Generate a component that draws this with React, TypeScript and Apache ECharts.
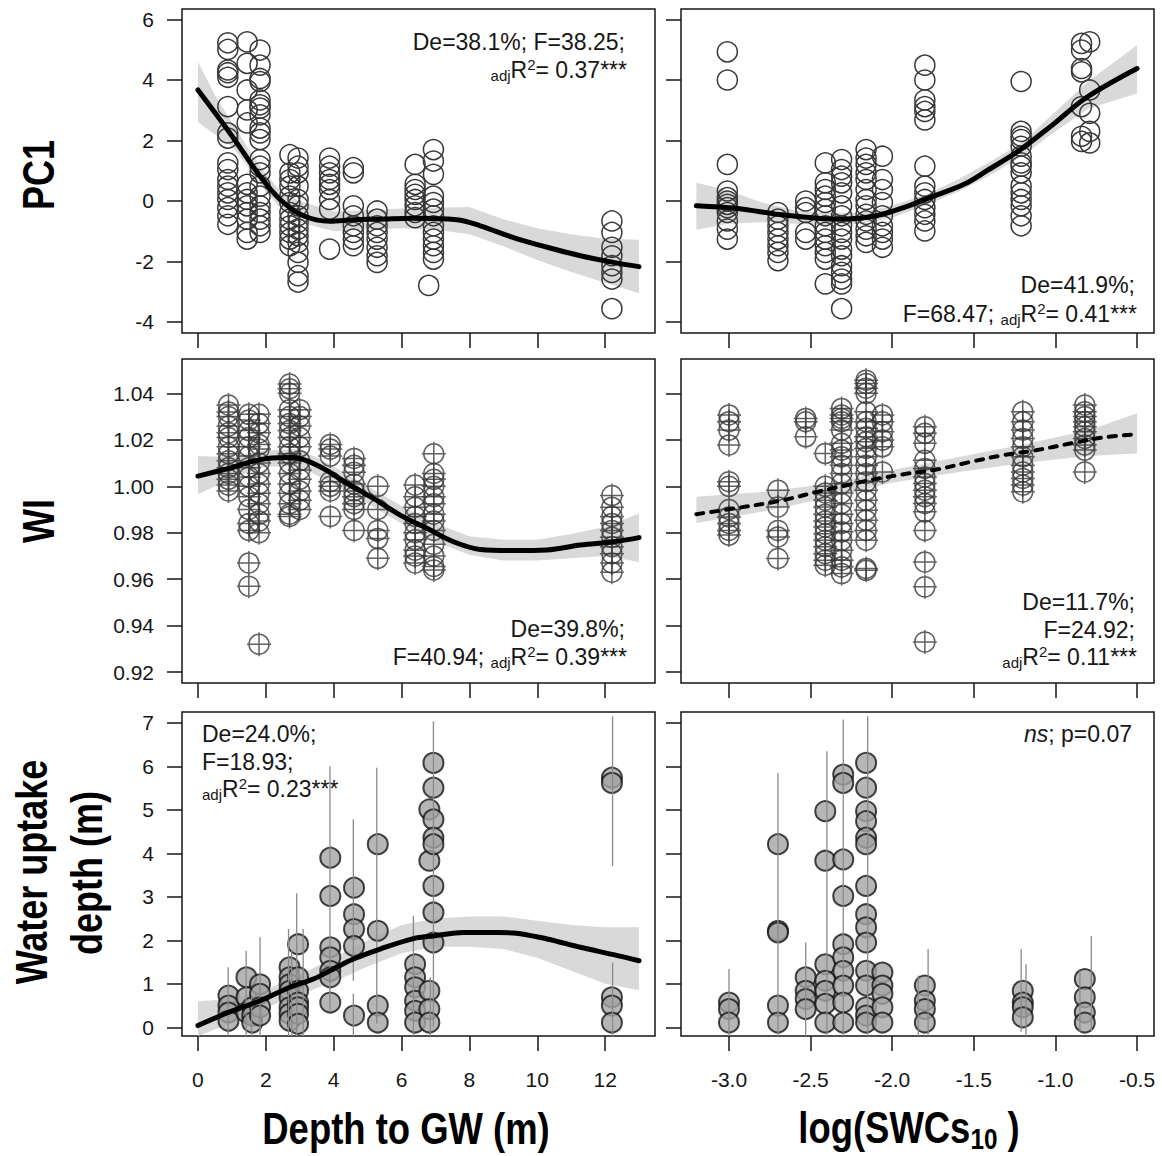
import React, { useEffect, useRef } from "react";
import * as echarts from "echarts";

// ---------------- Tick values ----------------
const depthTicks = [0, 2, 4, 6, 8, 10, 12];
const swcTicks = [-3.0, -2.5, -2.0, -1.5, -1.0, -0.5];
const pc1Ticks = [-4, -2, 0, 2, 4, 6];
const wiTicks = [0.92, 0.94, 0.96, 0.98, 1.0, 1.02, 1.04];
const wudTicks = [0, 1, 2, 3, 4, 5, 6, 7];

// ---------------- PC1 vs depth to GW ----------------
const pc1DepthPts: [number, number[]][] = [
  [0.88, [5.23, 5.01, 4.33, 4.24, 4.09, 3.12, 2.25, 2.08, 1.26, 1.04, 0.71, 0.49, 0.27, 0.05, -0.22, -0.49, -0.77]],
  [1.45, [5.26, 4.55, 3.67, 3.01, 2.58, 0.55, 0.27, 0.05, -0.16, -0.38, -0.6, -1.04, -1.26]],
  [1.83, [4.99, 4.49, 4.05, 3.95, 3.34, 3.18, 3.07, 2.85, 2.41, 2.25, 2.03, 1.37, 1.15, 0.93, 0.49, 0.16, -0.16, -0.38, -0.6, -0.82, -1.04]],
  [2.71, [1.53, 0.93, 0.71, 0.49, 0.16, -0.05, -0.38, -0.6, -0.82, -1.04, -1.26, -1.48]],
  [2.95, [1.42, 1.15, 0.93, 0.49, 0.05, -0.16, -0.49, -0.71, -0.93, -1.15, -1.37, -1.7, -2.03, -2.47, -2.68]],
  [3.88, [1.42, 1.15, 0.93, 0.71, 0.55, 0.38, 0.05, -0.27, -1.59]],
  [4.58, [1.1, 0.93, -0.16, -0.49, -0.82, -1.04, -1.26, -1.48]],
  [5.28, [-0.33, -0.6, -0.82, -1.04, -1.26, -1.53, -1.81, -2.03]],
  [6.4, [1.21, 0.55, 0.38, 0.22, 0.05, -0.16, -0.38, -0.55]],
  [6.94, [1.7, 1.32, 0.88, 0.16, -0.05, -0.27, -0.49, -0.82, -1.04, -1.26, -1.48, -1.7, -1.92]],
  [6.8, [-2.79]],
  [12.2, [-0.66, -1.04, -1.53, -1.81, -2.14, -2.36, -2.58, -3.56]],
];
const pc1DepthFit: [number, number][] = [
  [0, 3.67], [0.94, 2.25], [1.83, 0.82], [2.42, 0.05], [3.11, -0.49], [3.89, -0.67], [4.58, -0.62],
  [5.37, -0.6], [6.35, -0.57], [7.63, -0.62], [8.32, -0.82], [9.3, -1.21], [10.29, -1.53],
  [11.27, -1.81], [12.25, -2.03], [13.0, -2.17],
];
const pc1DepthBand: [number, number, number][] = [
  [0, 2.6, 4.6], [0.5, 2.2, 3.5], [1, 1.8, 2.6], [1.5, 1.1, 1.7], [2, 0.3, 0.9], [2.5, -0.3, 0.25],
  [3, -0.7, 0.0], [4, -1.0, -0.35], [5, -0.95, -0.3], [6, -0.9, -0.25], [7, -0.95, -0.22],
  [8, -1.1, -0.2], [9, -1.5, -0.6], [10, -1.95, -0.9], [11, -2.35, -1.1], [12, -2.7, -1.25], [13, -3.05, -1.28],
];

// ---------------- PC1 vs log(SWC) ----------------
const pc1SwcPts: [number, number[]][] = [
  [-3.01, [4.93, 4.0, 1.21, 0.33, 0.11, 0.0, -0.11, -0.22, -0.38, -0.66, -0.93, -1.26]],
  [-2.7, [-0.38, -0.6, -0.82, -1.04, -1.26, -1.48, -1.7, -1.97]],
  [-2.53, [0.0, -0.22, -0.38, -1.04, -1.26]],
  [-2.41, [1.26, 0.6, 0.38, 0.16, -0.05, -0.27, -0.49, -0.82, -1.04, -1.26, -1.48, -1.7, -1.92, -2.74]],
  [-2.31, [1.37, 1.04, 0.82, 0.6, 0.27, -0.16, -0.49, -0.82, -1.04, -1.26, -1.59, -1.81, -2.14, -2.36, -2.58, -2.74, -3.56]],
  [-2.16, [1.7, 1.42, 1.21, 0.93, 0.71, 0.38, 0.05, -0.16, -0.44, -0.66, -0.93, -1.15, -1.37]],
  [-2.06, [1.48, 0.71, 0.38, -0.05, -0.49, -0.82, -1.04, -1.26, -1.53]],
  [-1.8, [4.49, 4.0, 3.34, 3.12, 2.96, 2.68, 1.15, 0.49, 0.27, 0.05, -0.22, -0.44, -0.66, -0.99]],
  [-1.21, [3.95, 2.3, 2.14, 2.03, 1.81, 1.48, 1.26, 1.15, 0.93, 0.49, 0.27, 0.05, -0.16, -0.49, -0.82]],
  [-0.84, [5.21, 4.99, 4.38, 4.27, 3.12, 2.14, 1.97]],
  [-0.79, [5.26, 3.67, 2.9, 2.3, 1.92]],
];
const pc1SwcFit: [number, number][] = [
  [-3.2, -0.16], [-2.95, -0.25], [-2.69, -0.45], [-2.44, -0.58], [-2.3, -0.6], [-2.1, -0.49],
  [-1.93, -0.22], [-1.77, 0.11], [-1.56, 0.55], [-1.42, 1.0], [-1.22, 1.68], [-1.01, 2.55],
  [-0.81, 3.42], [-0.5, 4.38],
];
const pc1SwcBand: [number, number, number][] = [
  [-3.2, -0.95, 0.6], [-3.0, -0.75, 0.35], [-2.8, -0.7, -0.05], [-2.6, -0.75, -0.3], [-2.4, -0.8, -0.4],
  [-2.2, -0.75, -0.4], [-2.0, -0.55, -0.15], [-1.8, -0.15, 0.2], [-1.6, 0.3, 0.7], [-1.4, 0.85, 1.3],
  [-1.2, 1.5, 1.95], [-1.0, 2.3, 2.95], [-0.8, 3.05, 3.95], [-0.5, 3.55, 5.15],
];

// ---------------- WI vs depth to GW ----------------
const wiDepthPts: [number, number[]][] = [
  [0.9, [1.035, 1.032, 1.03, 1.026, 1.023, 1.021, 1.017, 1.014, 1.011, 1.008, 1.0055, 1.003, 1.0005, 0.998]],
  [1.5, [1.031, 1.0285, 1.024, 1.021, 1.017, 1.013, 1.008, 1.004, 1.0, 0.9955, 0.99, 0.984, 0.981, 0.967, 0.957]],
  [1.8, [1.031, 1.027, 1.023, 1.018, 1.016, 1.01, 1.0055, 1.001, 0.997, 0.9925, 0.988, 0.985, 0.98, 0.932]],
  [2.7, [1.044, 1.042, 1.04, 1.033, 1.03, 1.027, 1.024, 1.021, 1.017, 1.014, 1.01, 1.0055, 1.001, 0.997, 0.9925, 0.988, 0.987]],
  [3.0, [1.033, 1.03, 1.026, 1.021, 1.017, 1.011, 1.007, 1.003, 0.998, 0.994, 0.99]],
  [3.9, [1.018, 1.016, 1.013, 1.002, 1.0, 0.998, 0.987]],
  [4.6, [1.012, 1.009, 1.006, 1.001, 0.998, 0.9955, 0.9925, 0.99, 0.981]],
  [5.3, [1.0, 0.99, 0.981, 0.9775, 0.969]],
  [6.4, [1.0005, 0.9955, 0.991, 0.987, 0.984, 0.98, 0.977, 0.9725, 0.97, 0.967]],
  [6.95, [1.014, 1.0055, 1.003, 1.0, 0.9955, 0.9925, 0.988, 0.985, 0.981, 0.975, 0.97, 0.9655, 0.964]],
  [12.2, [0.996, 0.991, 0.987, 0.984, 0.981, 0.978, 0.974, 0.971, 0.967, 0.963]],
];
const wiDepthFit: [number, number][] = [
  [0, 1.0044], [0.94, 1.0078], [2.03, 1.012], [2.81, 1.0124], [3.6, 1.0084], [4.39, 1.0013],
  [5.17, 0.9948], [5.96, 0.9876], [6.75, 0.9819], [7.53, 0.9761], [8.32, 0.9728], [9.3, 0.9723],
  [10.29, 0.9726], [11.27, 0.9747], [12.25, 0.9761], [13.0, 0.9779],
];
const wiDepthBand: [number, number, number][] = [
  [0, 0.9966, 1.013], [1, 1.0035, 1.0125], [2, 1.0085, 1.0155], [3, 1.0085, 1.016], [4, 1.001, 1.0085],
  [5, 0.9925, 1.0], [6, 0.984, 0.9915], [7, 0.976, 0.984], [8, 0.9705, 0.9785], [9, 0.968, 0.977],
  [10, 0.968, 0.977], [11, 0.969, 0.9795], [12, 0.97, 0.9825], [13, 0.9674, 0.9883],
];

// ---------------- WI vs log(SWC) ----------------
const wiSwcPts: [number, number[]][] = [
  [-3.0, [1.0307, 1.0278, 1.0242, 1.0178, 1.002, 1.0, 0.99, 0.9868, 0.984, 0.981, 0.979]],
  [-2.7, [0.9983, 0.9911, 0.981, 0.9782, 0.9689]],
  [-2.53, [1.0292, 1.0278, 1.0213]],
  [-2.41, [1.0141, 1.0, 0.9971, 0.994, 0.9911, 0.988, 0.985, 0.9825, 0.9796, 0.9768, 0.974, 0.971, 0.9682, 0.966]],
  [-2.31, [1.0335, 1.0307, 1.0292, 1.0278, 1.0242, 1.0185, 1.0156, 1.0127, 1.0091, 1.0055, 1.0012, 0.9971, 0.9926, 0.988, 0.984, 0.9804, 0.9768, 0.9725, 0.9682, 0.9653, 0.9624]],
  [-2.16, [1.0457, 1.0443, 1.0422, 1.04, 1.0321, 1.0278, 1.025, 1.0213, 1.0192, 1.0163, 1.0127, 1.0091, 1.0055, 1.002, 0.9983, 0.994, 0.9897, 0.9854, 0.981, 0.9768, 0.9646, 0.9638]],
  [-2.06, [1.0307, 1.0278, 1.0235, 1.0199, 1.017, 1.0062]],
  [-1.8, [1.0256, 1.0228, 1.0185, 1.0112, 1.0077, 1.004, 1.0012, 0.9983, 0.9955, 0.9926, 0.989, 0.981, 0.9674, 0.9567, 0.933]],
  [-1.2, [1.0321, 1.0278, 1.0242, 1.0206, 1.017, 1.0127, 1.0091, 1.0062, 1.0034, 1.0005, 0.9976]],
  [-0.82, [1.035, 1.0321, 1.03, 1.0278, 1.0256, 1.0235, 1.0206, 1.0178, 1.0156, 1.0062]],
];
const wiSwcFit: [number, number][] = [
  [-3.2, 0.988], [-3.01, 0.99], [-2.69, 0.9937], [-2.46, 0.9976], [-2.3, 1.0001], [-2.14, 1.0026],
  [-1.93, 1.0052], [-1.73, 1.0072], [-1.52, 1.0105], [-1.32, 1.0134], [-1.12, 1.0155], [-0.91, 1.0184],
  [-0.71, 1.021], [-0.5, 1.0224],
];
const wiSwcBand: [number, number, number][] = [
  [-3.2, 0.9842, 0.9955], [-2.8, 0.989, 0.9975], [-2.4, 0.995, 1.001], [-2.0, 1.0015, 1.007],
  [-1.6, 1.006, 1.0125], [-1.2, 1.01, 1.018], [-0.8, 1.013, 1.024], [-0.5, 1.0141, 1.0314],
];

// ---------------- Water uptake depth vs depth to GW ----------------
const wudDepthPts: [number, number[]][] = [
  [0.9, [0.73, 0.5, 0.34, 0.15]],
  [1.43, [1.15, 0.69, 0.34]],
  [1.6, [0.46, 0.27, 0.11]],
  [1.83, [0.99, 0.77, 0.46, 0.27]],
  [2.7, [1.38, 1.15, 0.99, 0.84, 0.69, 0.46, 0.31, 0.15]],
  [2.95, [1.91, 1.15, 0.84, 0.57, 0.46, 0.31, 0.08]],
  [3.9, [3.9, 3.02, 1.84, 1.61, 1.3, 1.15, 0.57]],
  [4.6, [3.21, 2.6, 2.26, 1.87, 0.27]],
  [5.3, [4.21, 2.22, 0.5, 0.11]],
  [6.4, [1.45, 1.15, 0.92, 0.61, 0.38, 0.11]],
  [6.82, [5.01, 3.83, 0.84, 0.42, 0.11]],
  [6.94, [6.08, 5.51, 4.78, 4.36, 4.21, 3.25, 2.64, 1.95]],
  [12.2, [5.74, 5.62, 0.69, 0.5, 0.11]],
];
const wudDepthErr: [number, number, number][] = [
  [0.89, -0.2, 1.38], [1.42, -0.2, 1.76], [1.58, -0.2, 0.7], [1.83, -0.2, 2.07], [2.67, -0.2, 2.26],
  [2.76, -0.2, 1.76], [2.91, -0.2, 3.08], [3.1, -0.2, 2.26], [3.89, 0.38, 6.0], [4.58, 1.07, 4.78],
  [4.58, -0.2, 0.77], [5.27, 0.08, 5.97], [6.35, -0.2, 2.56], [6.85, -0.2, 1.15], [6.94, 0.0, 7.04],
  [12.22, 3.71, 7.15], [12.22, -0.2, 1.49],
];
const wudDepthFit: [number, number][] = [
  [0, 0.04], [0.89, 0.34], [1.83, 0.61], [2.71, 0.92], [3.4, 1.11], [3.89, 1.3], [4.58, 1.57],
  [5.37, 1.8], [6.35, 2.04], [6.94, 2.1], [7.83, 2.18], [8.81, 2.18], [9.3, 2.17], [10.29, 2.03],
  [11.27, 1.84], [12.25, 1.67], [13.0, 1.53],
];
const wudDepthBand: [number, number, number][] = [
  [0, -0.2, 0.6], [1, 0.1, 0.65], [2, 0.45, 0.85], [3, 0.75, 1.2], [4, 1.05, 1.6], [5, 1.4, 2.0],
  [6, 1.7, 2.35], [7, 1.85, 2.5], [8, 1.85, 2.55], [9, 1.8, 2.55], [10, 1.6, 2.45], [11, 1.3, 2.35],
  [12, 1.0, 2.3], [13, 0.85, 2.3],
];

// ---------------- Water uptake depth vs log(SWC) ----------------
const wudSwcPts: [number, number[]][] = [
  [-3.0, [0.57, 0.42, 0.11]],
  [-2.7, [4.21, 2.22, 2.18, 0.5, 0.11]],
  [-2.53, [1.15, 0.84, 0.65, 0.42]],
  [-2.41, [4.97, 3.83, 1.45, 1.07, 0.84, 0.54, 0.11]],
  [-2.3, [5.81, 5.62, 3.86, 3.02, 1.91, 1.61, 1.3, 0.96, 0.57, 0.11]],
  [-2.16, [6.08, 5.51, 4.97, 4.74, 4.36, 4.21, 3.25, 2.6, 2.3, 1.95, 1.3, 0.96, 0.46, 0.27, 0.11]],
  [-2.06, [1.26, 0.96, 0.77, 0.46, 0.11]],
  [-1.8, [0.96, 0.61, 0.42, 0.11]],
  [-1.2, [0.84, 0.57, 0.46, 0.23]],
  [-0.82, [1.11, 0.69, 0.34, 0.11]],
];
const wudSwcErr: [number, number, number][] = [
  [-3.0, -0.2, 1.34], [-2.7, -0.2, 5.85], [-2.53, -0.2, 1.95], [-2.4, -0.2, 6.35], [-2.3, -0.2, 7.08],
  [-2.15, -0.2, 7.15], [-1.84, -0.2, 1.19], [-1.78, -0.2, 1.8], [-1.21, -0.1, 1.8], [-1.18, -0.2, 1.45],
  [-0.85, -0.1, 1.3], [-0.78, -0.1, 2.1],
];

// ---------------- Annotation texts ----------------
const annTL = ["De=38.1%; F=38.25;", "0.37***"];
const annTR = ["De=41.9%;", "F=68.47;", "0.41***"];
const annML = ["De=39.8%;", "F=40.94;", "0.39***"];
const annMR = ["De=11.7%;", "F=24.92;", "0.11***"];
const annBL = ["De=24.0%;", "F=18.93;", "0.23***"];
const annBR = ["ns", "; p=0.07"];

// ---------------- Layout / style ----------------
const FONT = "'Liberation Sans', Arial, Helvetica, sans-serif";
const INK = "#161616";
const PT = "#383838";

const GRIDS = [
  { left: 182, top: 9, width: 473, height: 324 },
  { left: 681, top: 9, width: 473, height: 324 },
  { left: 182, top: 359, width: 473, height: 324 },
  { left: 681, top: 359, width: 473, height: 324 },
  { left: 182, top: 712, width: 473, height: 324 },
  { left: 681, top: 712, width: 473, height: 324 },
];
const X_DEPTH = { min: -0.47, max: 13.47 };
const X_SWC = { min: -3.294, max: -0.396 };
const Y_RANGES = [
  { min: -4.364, max: 6.347 },
  { min: 0.9153, max: 1.0548 },
  { min: -0.2, max: 7.25 },
];

const flat = (cl: [number, number[]][]) => cl.flatMap(([x, ys]) => ys.map((y) => [x, y]));

const WI_SYMBOL = "path://M2,12A10,10 0 1 1 22,12A10,10 0 1 1 2,12Z M12,0L12,24 M0,12L24,12";

function bandSeries(band: [number, number, number][], gi: number) {
  return {
    type: "custom",
    xAxisIndex: gi,
    yAxisIndex: gi,
    z: 1,
    silent: true,
    clip: true,
    data: band,
    encode: { x: 0, y: [1, 2] },
    renderItem: (params: any, api: any) => {
      if (params.dataIndex !== 0) return null;
      const up = band.map((b) => api.coord([b[0], b[2]]));
      const lo = band.slice().reverse().map((b) => api.coord([b[0], b[1]]));
      return { type: "polygon", shape: { points: up.concat(lo) }, style: { fill: "#d9d9d9", stroke: "none" } };
    },
  };
}
function fitSeries(fit: [number, number][], gi: number, dashed = false) {
  return {
    type: "line",
    xAxisIndex: gi,
    yAxisIndex: gi,
    z: 4,
    silent: true,
    symbol: "none",
    smooth: 0.35,
    data: fit,
    lineStyle: { color: "#000", width: dashed ? 4 : 5, type: dashed ? [7, 8] : "solid", cap: "round" },
  };
}
function scatterSeries(pts: [number, number[]][], gi: number, kind: "open" | "plus" | "fill") {
  const base: any = { type: "scatter", xAxisIndex: gi, yAxisIndex: gi, z: 2, silent: true, data: flat(pts) };
  if (kind === "open") {
    base.symbol = "circle";
    base.symbolSize = 20;
    base.itemStyle = { color: "transparent", borderColor: PT, borderWidth: 1.5, opacity: 1 };
  } else if (kind === "plus") {
    base.symbol = WI_SYMBOL;
    base.symbolSize = 24;
    base.itemStyle = { color: "transparent", borderColor: PT, borderWidth: 1.5 };
  } else {
    base.symbol = "circle";
    base.symbolSize = 20;
    base.itemStyle = { color: "#a4a4a4", borderColor: "#141414", borderWidth: 2 };
  }
  return base;
}
function errSeries(err: [number, number, number][], gi: number) {
  return {
    type: "custom",
    xAxisIndex: gi,
    yAxisIndex: gi,
    z: 3,
    silent: true,
    clip: true,
    data: err,
    encode: { x: 0, y: [1, 2] },
    renderItem: (params: any, api: any) => {
      const a = api.coord([api.value(0), api.value(1)]);
      const b = api.coord([api.value(0), api.value(2)]);
      return { type: "line", shape: { x1: a[0], y1: a[1], x2: b[0], y2: b[1] }, style: { stroke: "#8a8a8a", lineWidth: 1.3 } };
    },
  };
}

const RICH = {
  n: { fontSize: 23, fontFamily: FONT, color: INK, lineHeight: 26, verticalAlign: "middle" },
  i: { fontSize: 23, fontFamily: FONT, color: INK, lineHeight: 26, verticalAlign: "middle", fontStyle: "italic" },
  sub: { fontSize: 15, fontFamily: FONT, color: INK, lineHeight: 7, verticalAlign: "bottom" },
  sup: { fontSize: 15, fontFamily: FONT, color: INK, lineHeight: 16, verticalAlign: "top" },
};
function txt(text: string, x: number, baseline: number, align: "left" | "right") {
  return {
    type: "text",
    x,
    y: baseline - 8,
    silent: true,
    style: { text, rich: RICH, align, verticalAlign: "middle", fill: INK, font: `23px ${FONT}` },
  };
}
const adj = (v: string) => `{sub|adj}{n|R}{sup|2}{n|= ${v}}`;

function buildOption() {
  const grid = GRIDS.map((g) => ({ ...g, show: true, borderColor: INK, borderWidth: 1.5, backgroundColor: "transparent" }));
  const xAxis = GRIDS.map((_, i) => {
    const left = i % 2 === 0;
    const ticks = left ? depthTicks : swcTicks;
    return {
      type: "value",
      gridIndex: i,
      position: "bottom",
      ...(left ? X_DEPTH : X_SWC),
      axisLine: { show: false, onZero: false },
      axisTick: { show: true, inside: false, length: 15, lineStyle: { color: INK, width: 1.5 }, customValues: ticks },
      axisLabel: {
        show: i >= 4,
        customValues: ticks,
        margin: 33,
        fontSize: 21,
        fontFamily: FONT,
        color: INK,
        formatter: (v: number) => (left ? String(v) : v.toFixed(1)),
      },
      splitLine: { show: false },
    };
  });
  const yTicks = [pc1Ticks, wiTicks, wudTicks];
  const yAxis = GRIDS.map((_, i) => {
    const row = Math.floor(i / 2);
    const ticks = yTicks[row];
    return {
      type: "value",
      gridIndex: i,
      position: "left",
      ...Y_RANGES[row],
      axisLine: { show: false, onZero: false },
      axisTick: { show: true, inside: false, length: 15, lineStyle: { color: INK, width: 1.5 }, customValues: ticks },
      axisLabel: {
        show: i % 2 === 0,
        customValues: ticks,
        margin: 28,
        fontSize: 21,
        fontFamily: FONT,
        color: INK,
        formatter: (v: number) => (row === 1 ? v.toFixed(2) : String(v)),
      },
      splitLine: { show: false },
    };
  });

  const series: any[] = [
    bandSeries(pc1DepthBand, 0), scatterSeries(pc1DepthPts, 0, "open"), fitSeries(pc1DepthFit, 0),
    bandSeries(pc1SwcBand, 1), scatterSeries(pc1SwcPts, 1, "open"), fitSeries(pc1SwcFit, 1),
    bandSeries(wiDepthBand, 2), scatterSeries(wiDepthPts, 2, "plus"), fitSeries(wiDepthFit, 2),
    bandSeries(wiSwcBand, 3), scatterSeries(wiSwcPts, 3, "plus"), fitSeries(wiSwcFit, 3, true),
    bandSeries(wudDepthBand, 4), scatterSeries(wudDepthPts, 4, "fill"), errSeries(wudDepthErr, 4), fitSeries(wudDepthFit, 4),
    scatterSeries(wudSwcPts, 5, "fill"), errSeries(wudSwcErr, 5),
  ];

  const titleStyle = (text: string) => ({
    text,
    font: `bold 45px ${FONT}`,
    fill: "#000",
    align: "center",
    verticalAlign: "middle",
  });

  const graphic = [
    // panel annotations
    txt(`{n|${annTL[0]}}`, 625, 50, "right"),
    txt(adj(annTL[1]), 627, 78, "right"),
    txt(`{n|${annTR[0]}}`, 1135, 293, "right"),
    txt(`{n|${annTR[1]} }${adj(annTR[2])}`, 1137, 322, "right"),
    txt(`{n|${annML[0]}}`, 625, 637, "right"),
    txt(`{n|${annML[1]} }${adj(annML[2])}`, 627, 665, "right"),
    txt(`{n|${annMR[0]}}`, 1135, 610, "right"),
    txt(`{n|${annMR[1]}}`, 1135, 638, "right"),
    txt(adj(annMR[2]), 1137, 665, "right"),
    txt(`{n|${annBL[0]}}`, 202, 742, "left"),
    txt(`{n|${annBL[1]}}`, 202, 770, "left"),
    txt(adj(annBL[2]), 202, 797, "left"),
    txt(`{i|${annBR[0]}}{n|${annBR[1]}}`, 1132, 742, "right"),
    // axis titles (condensed bold)
    { type: "text", x: 406, y: 1129, scaleX: 0.81, silent: true, style: titleStyle("Depth to GW (m)") },
    {
      type: "text",
      x: 909,
      y: 1128,
      scaleX: 0.81,
      silent: true,
      style: {
        text: "{t|log(SWCs}{s|10}{t| )}",
        align: "center",
        verticalAlign: "middle",
        rich: {
          t: { fontSize: 45, fontWeight: "bold", fontFamily: FONT, color: "#000", lineHeight: 52, verticalAlign: "middle" },
          s: { fontSize: 30, fontWeight: "bold", fontFamily: FONT, color: "#000", lineHeight: 28, verticalAlign: "bottom" },
        },
      },
    },
    { type: "text", x: 39, y: 175, rotation: Math.PI / 2, scaleX: 0.8, silent: true, style: titleStyle("PC1") },
    { type: "text", x: 39, y: 521, rotation: Math.PI / 2, scaleX: 0.8, silent: true, style: titleStyle("WI") },
    { type: "text", x: 32, y: 872, rotation: Math.PI / 2, scaleX: 0.8, silent: true, style: titleStyle("Water uptake") },
    { type: "text", x: 87, y: 873, rotation: Math.PI / 2, scaleX: 0.8, silent: true, style: titleStyle("depth (m)") },
  ];

  return { animation: false, backgroundColor: "#fff", grid, xAxis, yAxis, series, graphic };
}

export default function App() {
  const ref = useRef<HTMLDivElement>(null);
  useEffect(() => {
    if (!ref.current) return;
    const chart = echarts.init(ref.current, null, { renderer: "svg" });
    chart.setOption(buildOption() as any);
    return () => chart.dispose();
  }, []);
  return (
    <div
      ref={ref}
      style={{ position: "absolute", left: 0, top: 0, width: 1162, height: 1156, background: "#fff" }}
    />
  );
}
